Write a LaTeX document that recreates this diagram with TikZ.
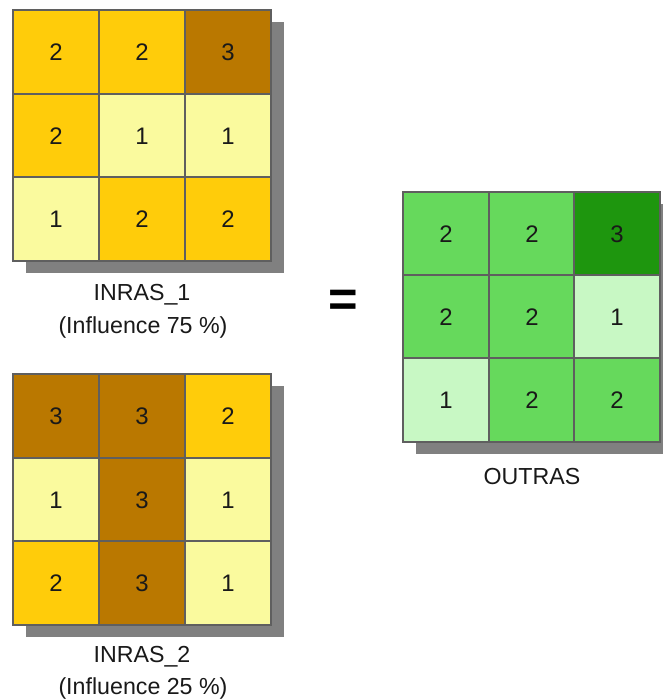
\documentclass[tikz,border=0pt]{standalone}
\usepackage{fontspec}
\setmainfont{Liberation Sans}

\definecolor{paleyel}{HTML}{FAFA9E}
\definecolor{goldyel}{HTML}{FFCC0A}
\definecolor{darkbrn}{HTML}{BA7800}
\definecolor{palegrn}{HTML}{C8F8C4}
\definecolor{midgrn}{HTML}{66D95C}
\definecolor{darkgrn}{HTML}{1E960E}
\definecolor{shadowgray}{HTML}{808080}
\definecolor{gridline}{HTML}{5F5F5F}

\tikzset{
  cell/.style={draw=gridline, line width=1pt, inner sep=0pt,
    minimum width=2.15cm, minimum height=2.09cm,
    font=\fontsize{17}{19}\selectfont, text=black!90},
  caption/.style={font=\fontsize{16.5}{19}\selectfont, text=black!90}
}

\begin{document}
\begin{tikzpicture}[x=0.025cm, y=-0.025cm]
  \useasboundingbox (0,0) rectangle (663,699);
  \clip (0,0) rectangle (663,699);
  \fill[white] (0,0) rectangle (663,699);

  % drop shadows
  \fill[shadowgray] (26,22) rectangle (284,273);
  \fill[shadowgray] (26,386) rectangle (284,637);
  \fill[shadowgray] (416,204) rectangle (673,454);

  % first input raster
  \node[cell, fill=goldyel] (a11) at (56,52) {2};
  \node[cell, fill=goldyel] (a12) at (142,52) {2};
  \node[cell, fill=darkbrn] (a13) at (228,52) {3};
  \node[cell, fill=goldyel] (a21) at (56,136) {2};
  \node[cell, fill=paleyel] (a22) at (142,136) {1};
  \node[cell, fill=paleyel] (a23) at (228,136) {1};
  \node[cell, fill=paleyel] (a31) at (56,219) {1};
  \node[cell, fill=goldyel] (a32) at (142,219) {2};
  \node[cell, fill=goldyel] (a33) at (228,219) {2};
  \node[caption] (inras1) at (142,295) {INRAS\_1};
  \node[caption] (infl1) at (143,327) {(Influence 75 \%)};

  % second input raster
  \node[cell, fill=darkbrn] (b11) at (56,416) {3};
  \node[cell, fill=darkbrn] (b12) at (142,416) {3};
  \node[cell, fill=goldyel] (b13) at (228,416) {2};
  \node[cell, fill=paleyel] (b21) at (56,500) {1};
  \node[cell, fill=darkbrn] (b22) at (142,500) {3};
  \node[cell, fill=paleyel] (b23) at (228,500) {1};
  \node[cell, fill=goldyel] (b31) at (56,583) {2};
  \node[cell, fill=darkbrn] (b32) at (142,583) {3};
  \node[cell, fill=paleyel] (b33) at (228,583) {1};
  \node[caption] (inras2) at (142,657) {INRAS\_2};
  \node[caption] (infl2) at (143,688) {(Influence 25 \%)};

  \node[font=\fontsize{36}{36}\selectfont\bfseries] (equals) at (343,303) {=};

  % output raster
  \node[cell, fill=midgrn] (c11) at (446,234) {2};
  \node[cell, fill=midgrn] (c12) at (532,234) {2};
  \node[cell, fill=darkgrn] (c13) at (617,234) {3};
  \node[cell, fill=midgrn] (c21) at (446,317) {2};
  \node[cell, fill=midgrn] (c22) at (532,317) {2};
  \node[cell, fill=palegrn] (c23) at (617,317) {1};
  \node[cell, fill=palegrn] (c31) at (446,400) {1};
  \node[cell, fill=midgrn] (c32) at (532,400) {2};
  \node[cell, fill=midgrn] (c33) at (617,400) {2};
  \node[caption] (outras) at (532,477) {OUTRAS};
\end{tikzpicture}
\end{document}
